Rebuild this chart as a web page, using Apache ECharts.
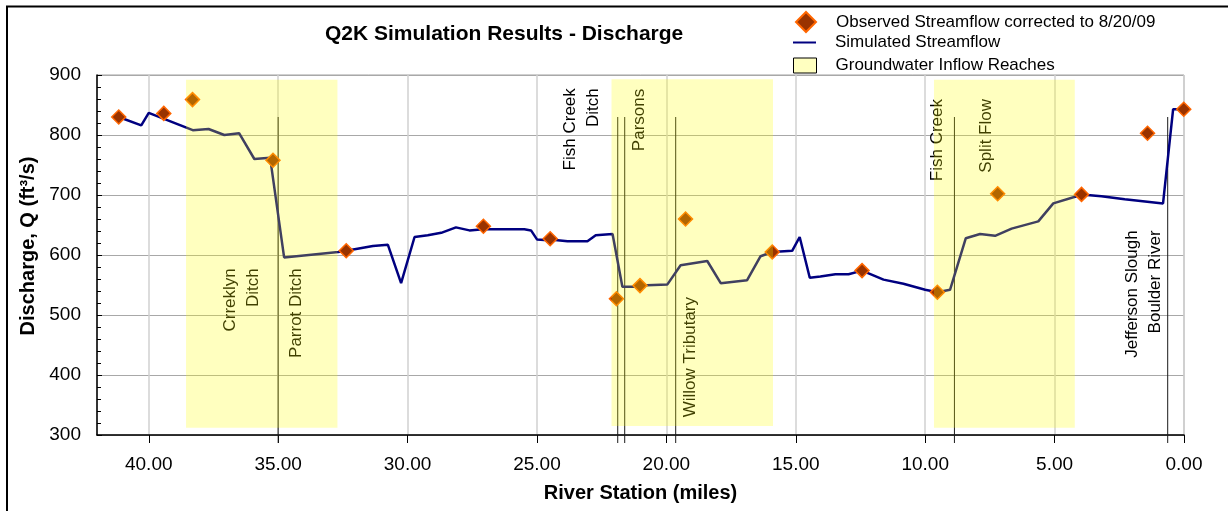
<!DOCTYPE html>
<html>
<head>
<meta charset="utf-8">
<title>Q2K Simulation Results - Discharge</title>
<script src="https://cdn.jsdelivr.net/npm/echarts@6/dist/echarts.min.js"></script>
<style>
  html, body { margin: 0; padding: 0; background: #fff; }
  #chart { width: 1228px; height: 511px; }
</style>
</head>
<body>
<div id="chart"></div>
<script>
// simulated streamflow (river station in miles, discharge in ft3/s)
var simMiles = [41.16, 40.29, 40.0, 38.3, 37.69, 37.08, 36.51, 35.92, 35.31, 34.77,
  32.68, 32.37, 31.34, 30.76, 30.25, 29.73, 29.22, 28.7, 28.13, 27.61, 27.09,
  25.49, 25.23, 25.0, 24.72, 24.49, 23.82, 23.05, 22.73, 22.08, 21.7, 21.25,
  21.02, 19.96, 19.45, 18.42, 17.9, 16.88, 16.36, 15.91, 15.14, 14.85, 14.46,
  14.05, 13.47, 12.96, 12.44, 11.61, 10.84, 10.0, 9.53, 9.04, 8.43, 7.88, 7.3,
  6.66, 5.63, 5.05, 4.21, 3.96, 3.19, 2.29, 0.81, 0.42, 0.01];
var simFlow = [830, 816, 837, 808, 810, 800, 803, 760, 762, 596,
  605, 607, 615, 617, 553, 630, 633, 637, 646, 641, 643,
  643, 641, 626, 625, 626, 623, 623, 633, 635, 547, 547,
  549, 551, 583, 590, 553, 558, 598, 605, 607, 630, 562,
  564, 568, 568, 574, 559, 552, 542, 538, 542, 628, 635, 632,
  644, 656, 686, 697, 701, 698, 693, 686, 843, 843];

// observed streamflow corrected to 8/20/09
var obsMiles = [41.16, 39.42, 38.31, 35.2, 32.37, 27.07, 24.49, 21.93, 21.02, 19.26,
  15.91, 12.44, 9.53, 7.2, 3.96, 1.41, 0.01];
var obsFlow = [830, 836, 859, 758, 607, 648, 627, 527, 549, 660,
  605, 574, 538, 702, 701, 803, 843];

// groundwater inflow reaches
var reachStart = [38.56, 22.12, 9.66];
var reachEnd = [32.71, 15.88, 4.22];
var reachBottom = [312, 315, 312];
var reachTop = [892, 893, 892];

// diversions / tributaries
var structMiles = [35.0, 21.88, 21.61, 19.64, 8.87, 0.63];
var structTop = [830, 830, 830, 830, 830, 830];
var noteText = ["Crreklyn\nDitch", "Parrot Ditch", "Fish Creek\nDitch", "Parsons",
  "Willow Tributary", "Fish Creek", "Split Flow", "Jefferson Slough\nBoulder River"];
var noteMiles = [36.41, 34.31, 23.27, 21.04, 19.07, 9.55, 7.64, 1.56];
var noteFlow = [578, 578, 878, 877, 530, 860, 860, 641];

var xTicks = [0, 5, 10, 15, 20, 25, 30, 35, 40];

var font = "Liberation Sans";
var obsName = "Observed Streamflow corrected to 8/20/09";
var simName = "Simulated Streamflow";
var gwName = "Groundwater Inflow Reaches";

var chart = echarts.init(document.getElementById("chart"));

var simData = [];
for (var i = 0; i < simMiles.length; i++) {
  simData.push([simMiles[i], simFlow[i]]);
}
var obsData = [];
for (var i = 0; i < obsMiles.length; i++) {
  obsData.push([obsMiles[i], obsFlow[i]]);
}
var reachData = [];
for (var i = 0; i < reachStart.length; i++) {
  reachData.push([reachStart[i], reachEnd[i], reachBottom[i], reachTop[i]]);
}
var structData = [];
for (var i = 0; i < structMiles.length; i++) {
  structData.push([structMiles[i], structTop[i]]);
}
var noteData = [];
for (var i = 0; i < noteMiles.length; i++) {
  noteData.push([noteMiles[i], noteFlow[i]]);
}

chart.setOption({
  animation: false,
  title: {
    text: "Q2K Simulation Results - Discharge",
    left: 325,
    top: 24,
    padding: 0,
    textStyle: { fontFamily: font, fontSize: 21, fontWeight: "bold", color: "#000" }
  },
  legend: [
    {
      data: [{ name: obsName, icon: "diamond" }],
      left: 795, top: 11, padding: 0,
      itemWidth: 20, itemHeight: 20,
      selectedMode: false,
      textStyle: { fontFamily: font, fontSize: 17, color: "#000", padding: [0, 0, 0, 15] }
    },
    {
      // plain bar as the line sample, text sits a little above it
      data: [{ name: simName, icon: "rect" }],
      left: 793, top: 34, padding: 0,
      itemWidth: 23, itemHeight: 2,
      selectedMode: false,
      itemStyle: { color: "#000080", borderWidth: 0 },
      textStyle: { fontFamily: font, fontSize: 17, color: "#000", padding: [0, 0, 9, 14] }
    },
    {
      data: [{ name: gwName, icon: "rect" }],
      left: 793, top: 57, padding: 0,
      itemWidth: 23, itemHeight: 15,
      selectedMode: false,
      itemStyle: { color: "#FFFFC0", borderColor: "#000", borderWidth: 1 },
      textStyle: { fontFamily: font, fontSize: 17, color: "#000", padding: [0, 0, 0, 14] }
    }
  ],
  graphic: [
    {
      type: "rect",
      silent: true,
      shape: { x: 7, y: 6.5, width: 1400, height: 800 },
      style: { fill: "none", stroke: "#000", lineWidth: 2 }
    }
  ],
  grid: {
    left: 97,
    right: 44,
    top: 75,
    bottom: 76,
    show: true,
    borderColor: "#a0a0a0",
    borderWidth: 1
  },
  xAxis: {
    type: "value",
    inverse: true,
    min: 0,
    max: 42,
    interval: 5,
    name: "River Station (miles)",
    nameLocation: "middle",
    nameGap: 48,
    nameTextStyle: { fontFamily: font, fontSize: 20, fontWeight: "bold", color: "#000" },
    axisLine: { lineStyle: { color: "#000", width: 1.5 } },
    axisTick: { customValues: xTicks, length: 8, lineStyle: { color: "#000" } },
    axisLabel: {
      customValues: xTicks,
      margin: 20,
      fontFamily: font,
      fontSize: 19,
      color: "#000",
      formatter: function (v) {
        return v.toFixed(2);
      }
    },
    splitLine: { show: true, lineStyle: { color: "#d0d0d0", width: 1.5 } }
  },
  yAxis: {
    type: "value",
    min: 300,
    max: 900,
    interval: 100,
    name: "Discharge, Q (ft³/s)",
    nameLocation: "middle",
    nameGap: 56,
    nameTextStyle: { fontFamily: font, fontSize: 20, fontWeight: "bold", color: "#000", padding: [0, 0, 0, 18] },
    axisLine: { show: true, onZero: false, lineStyle: { color: "#000", width: 1.5 } },
    axisTick: { show: true, inside: true, length: 5, lineStyle: { color: "#000" } },
    minorTick: { show: true, splitNumber: 5, length: 4, lineStyle: { color: "#000" } },
    axisLabel: { margin: 16, fontFamily: font, fontSize: 19, color: "#000" },
    splitLine: { lineStyle: { color: "#a8a8a8", width: 1.2 } }
  },
  series: [
    {
      name: simName,
      type: "line",
      data: simData,
      symbol: "none",
      z: 2,
      itemStyle: { color: "#000080" },
      lineStyle: { color: "#000080", width: 2.5 }
    },
    {
      name: obsName,
      type: "scatter",
      data: obsData,
      symbol: "diamond",
      symbolSize: 14,
      z: 3,
      itemStyle: { color: "#993300", borderColor: "#FF6600", borderWidth: 1.5, opacity: 1 }
    },
    {
      name: "structures",
      type: "custom",
      data: structData,
      z: 2,
      silent: true,
      encode: { x: 0, y: 1 },
      renderItem: function (params, api) {
        var top = api.coord([api.value(0), api.value(1)]);
        var base = api.coord([api.value(0), 300]);
        return {
          type: "line",
          shape: { x1: top[0], y1: top[1], x2: base[0], y2: base[1] + 8 },
          style: { stroke: "#1a1a1a", lineWidth: 1 }
        };
      }
    },
    {
      name: "notes",
      type: "custom",
      data: noteData,
      z: 2,
      silent: true,
      encode: { x: 0, y: 1 },
      renderItem: function (params, api) {
        var p = api.coord([api.value(0), api.value(1)]);
        return {
          type: "text",
          x: p[0],
          y: p[1],
          rotation: Math.PI / 2,
          style: {
            text: noteText[params.dataIndex],
            fill: "#000",
            fontFamily: font,
            fontSize: 17,
            lineHeight: 23,
            align: "right",
            verticalAlign: "middle"
          }
        };
      }
    },
    {
      name: gwName,
      type: "custom",
      data: reachData,
      z: 10,
      silent: true,
      itemStyle: { color: "#FFFFC0" },
      encode: { x: [0, 1], y: [2, 3] },
      renderItem: function (params, api) {
        var a = api.coord([api.value(0), api.value(3)]);
        var b = api.coord([api.value(1), api.value(2)]);
        return {
          type: "rect",
          shape: {
            x: Math.min(a[0], b[0]),
            y: a[1],
            width: Math.abs(b[0] - a[0]),
            height: b[1] - a[1]
          },
          style: { fill: "rgba(255,255,0,0.25)" }
        };
      }
    }
  ]
});
</script>
</body>
</html>
